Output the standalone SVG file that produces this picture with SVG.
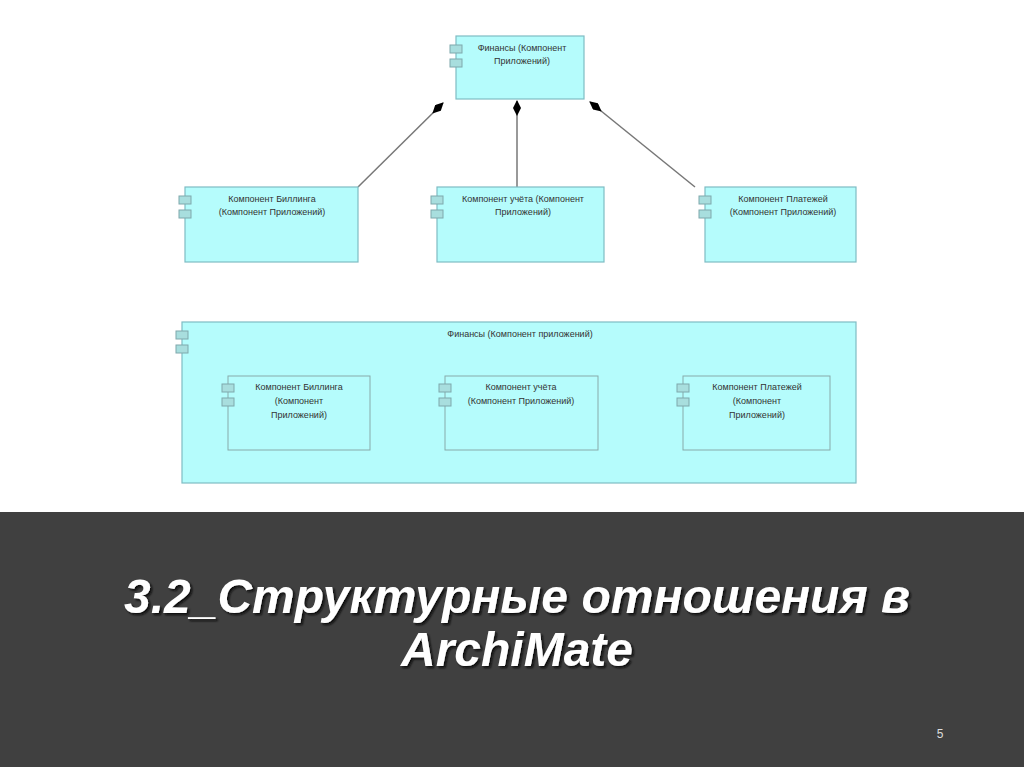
<svg xmlns="http://www.w3.org/2000/svg" width="1024" height="767" viewBox="0 0 1024 767">
<style>
.box{fill:#b5fcfc;stroke:#7fbcc4;stroke-width:1.2}
.inner{fill:#b5fcfc;stroke:#8aa;stroke-width:1}
.ic{fill:#a8dede;stroke:#7fa8ac;stroke-width:1}
.t{font-family:"Liberation Sans",Arial,sans-serif;font-size:9px;fill:#333;text-anchor:middle}
.con{stroke:#777;stroke-width:1.5;fill:none}
</style>
<defs>
<marker id="dia" viewBox="0 0 16 8" refX="15" refY="4" markerWidth="16" markerHeight="8" markerUnits="userSpaceOnUse" orient="auto">
<path d="M0,4 L8,0 L16,4 L8,8 Z" fill="#000"/>
</marker>
<g id="icon"><rect class="ic" x="-6" y="0" width="12" height="8"/><rect class="ic" x="-6" y="14" width="12" height="8"/></g>
<filter id="sh"><feDropShadow dx="2" dy="2" stdDeviation="1" flood-color="#111"/></filter>
</defs>
<rect width="1024" height="512" fill="#fff"/>
<g id="connectors">
<line class="con" x1="358" y1="187" x2="443" y2="103" marker-end="url(#dia)"/>
<line class="con" x1="517" y1="187" x2="517" y2="101" marker-end="url(#dia)"/>
<line class="con" x1="695" y1="187" x2="590" y2="102" marker-end="url(#dia)"/>
</g>
<g id="finance">
<rect class="box" x="456" y="36" width="128" height="63"/>
<use href="#icon" x="456" y="45"/>
<text class="t" x="522" y="51">Финансы (Компонент</text>
<text class="t" x="522" y="64">Приложений)</text>
</g>
<g id="billing">
<rect class="box" x="185" y="187" width="173" height="75"/>
<use href="#icon" x="185" y="196"/>
<text class="t" x="272" y="202">Компонент Биллинга</text>
<text class="t" x="272" y="215">(Компонент Приложений)</text>
</g>
<g id="uchet">
<rect class="box" x="437" y="187" width="167" height="75"/>
<use href="#icon" x="437" y="196"/>
<text class="t" x="523" y="202">Компонент учёта (Компонент</text>
<text class="t" x="523" y="215">Приложений)</text>
</g>
<g id="payments">
<rect class="box" x="705" y="187" width="151" height="75"/>
<use href="#icon" x="705" y="196"/>
<text class="t" x="783" y="202">Компонент Платежей</text>
<text class="t" x="783" y="215">(Компонент Приложений)</text>
</g>
<g id="finance2">
<rect class="box" x="182" y="322" width="674" height="161"/>
<use href="#icon" x="182" y="331"/>
<text class="t" x="520" y="337">Финансы (Компонент приложений)</text>
</g>
<g id="billing2">
<rect class="inner" x="228" y="376" width="142" height="74"/>
<use href="#icon" x="228" y="384"/>
<text class="t" x="299" y="390">Компонент Биллинга</text>
<text class="t" x="299" y="404">(Компонент</text>
<text class="t" x="299" y="418">Приложений)</text>
</g>
<g id="uchet2">
<rect class="inner" x="445" y="376" width="153" height="74"/>
<use href="#icon" x="445" y="384"/>
<text class="t" x="521" y="390">Компонент учёта</text>
<text class="t" x="521" y="404">(Компонент Приложений)</text>
</g>
<g id="payments2">
<rect class="inner" x="683" y="376" width="147" height="74"/>
<use href="#icon" x="683" y="384"/>
<text class="t" x="757" y="390">Компонент Платежей</text>
<text class="t" x="757" y="404">(Компонент</text>
<text class="t" x="757" y="418">Приложений)</text>
</g>
<rect x="0" y="512" width="1024" height="255" fill="#404040"/>
<g font-family="Liberation Sans,Arial,sans-serif" font-weight="bold" font-style="italic" font-size="48" text-anchor="middle" fill="#fff" filter="url(#sh)">
<text x="517" y="613">3.2_Структурные отношения в</text>
<text x="517" y="666">ArchiMate</text>
</g>
<text x="940" y="738" font-family="Liberation Sans,Arial,sans-serif" font-size="12" fill="#ddd" text-anchor="middle">5</text>
</svg>
